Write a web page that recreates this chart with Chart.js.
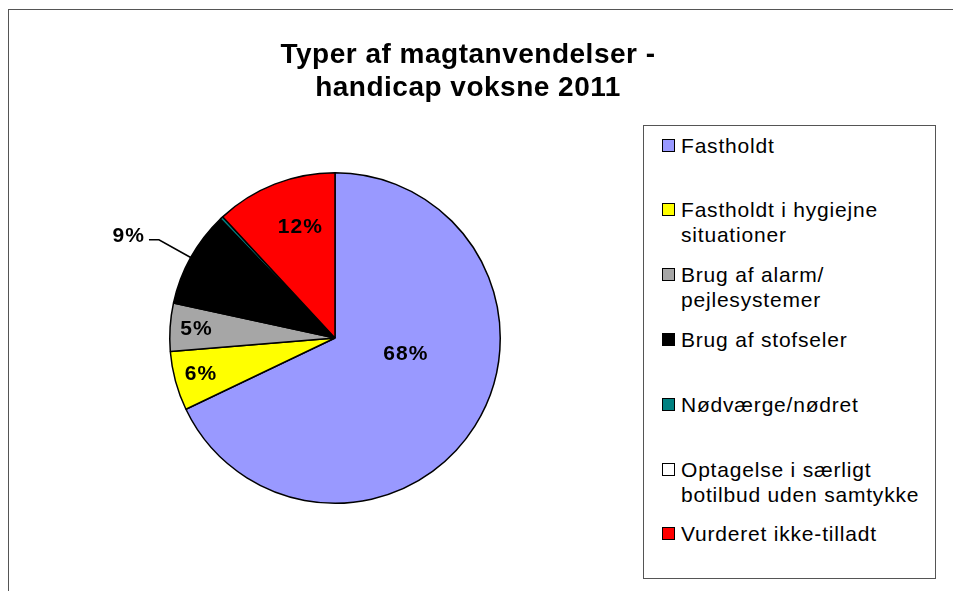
<!DOCTYPE html>
<html>
<head>
<meta charset="utf-8">
<title>Typer af magtanvendelser - handicap voksne 2011</title>
<script src="https://cdn.jsdelivr.net/npm/chart.js@4"></script>
<style>
  html, body { margin: 0; padding: 0; background: #fff; }
  body { width: 953px; height: 591px; position: relative; overflow: hidden;
         font-family: "Liberation Sans", Arial, sans-serif; }
  #frame { position: absolute; left: 8px; top: 9px; width: 980px; height: 620px;
           border-top: 1px solid #555; border-left: 1px solid #555; }
  #wrap { position: absolute; left: 10px; top: 10px; width: 916px; height: 581px; }
  #legend { position: absolute; left: 643px; top: 125px; width: 291px; height: 452px;
            border: 1px solid #555; background: #fff; }
  .item { position: absolute; left: 18px; width: 272px; font-size: 21px;
          letter-spacing: 0.8px; line-height: 25px; color: #000; }
  .sw { position: absolute; left: 0; top: 6px; width: 11px; height: 11px; border: 1px solid #000; }
  .txt { padding-left: 19px; width: 252px; }
</style>
</head>
<body>
<div id="frame"></div>
<div id="wrap"><canvas id="pieChart"></canvas></div>
<div id="legend"></div>

<script>
// data (shares in percent, clockwise from 12 o'clock)
const categories = [
    'Fastholdt',
    'Fastholdt i hygiejne situationer',
    'Brug af alarm/ pejlesystemer',
    'Brug af stofseler',
    'Nødværge/nødret',
    'Optagelse i særligt botilbud uden samtykke',
    'Vurderet ikke-tilladt'
];
const shares = [67.9, 5.8, 4.7, 9.4, 0.3, 0, 11.9];
const sliceColors = ['#9999FF', '#FFFF00', '#A6A6A6', '#000000', '#008080', '#FFFFFF', '#FF0000'];
const titleLines = ['Typer af magtanvendelser -', 'handicap voksne 2011'];

// where each percent label sits: fraction of radius, 'out' = leader line, null = none
const labelRadius = [0.44, 0.84, 0.84, 'out', null, null, 0.70];
const labelTurn = [-19, 0, 0, 0, 0, 0, 4];   // degrees nudged from slice middle

// empty box on the right so the pie sits left while the title stays centred
const spacer = {
    id: 'spacer',
    beforeInit(chart, args, opts) {
        const box = {
            position: 'right', weight: 0, fullSize: false, options: {},
            left: 0, top: 0, right: 0, bottom: 0, width: 0, height: 0,
            isHorizontal() { return false; },
            update(maxWidth, maxHeight) { this.width = opts.width; this.height = maxHeight; },
            draw() {}
        };
        Chart.layouts.addBox(chart, box);
    }
};

// wider canvas letter spacing, like the original
const spacing = {
    id: 'spacing',
    beforeDraw(chart) { chart.ctx.letterSpacing = '0.5px'; },
    afterDraw(chart) { chart.ctx.letterSpacing = '0px'; }
};

// percent labels on / beside the slices
const sliceLabels = {
    id: 'sliceLabels',
    afterDatasetsDraw(chart) {
        const ctx = chart.ctx;
        const data = chart.data.datasets[0].data;
        const total = data.reduce((a, b) => a + b, 0);
        const arcs = chart.getDatasetMeta(0).data;
        ctx.save();
        ctx.letterSpacing = '1px';
        ctx.font = 'bold 21px "Liberation Sans", Arial, sans-serif';
        ctx.fillStyle = '#000';
        ctx.textBaseline = 'middle';
        arcs.forEach((arc, i) => {
            const r = labelRadius[i];
            if (r === null) return;
            const txt = Math.round(data[i] / total * 100) + '%';
            const R = arc.outerRadius;
            const mid = (arc.startAngle + arc.endAngle) / 2 + labelTurn[i] * Math.PI / 180;
            if (r === 'out') {
                const ex = arc.x + Math.cos(mid) * R, ey = arc.y + Math.sin(mid) * R;
                const kx = arc.x + Math.cos(mid) * R * 1.22, ky = arc.y + Math.sin(mid) * R * 1.22;
                ctx.strokeStyle = '#000';
                ctx.lineWidth = 1.5;
                ctx.beginPath();
                ctx.moveTo(ex, ey);
                ctx.lineTo(kx, ky);
                ctx.lineTo(kx - 10, ky);
                ctx.stroke();
                ctx.textAlign = 'right';
                ctx.fillText(txt, kx - 14, ky - 4);
            } else {
                ctx.textAlign = 'center';
                ctx.fillText(txt, arc.x + Math.cos(mid) * R * r, arc.y + Math.sin(mid) * R * r);
            }
        });
        ctx.restore();
    }
};

const ctx = document.getElementById('pieChart').getContext('2d');
new Chart(ctx, {
    type: 'pie',
    data: {
        labels: categories,
        datasets: [{
            data: shares,
            backgroundColor: sliceColors,
            borderColor: '#000',
            borderWidth: 1.5
        }]
    },
    options: {
        responsive: true,
        maintainAspectRatio: false,
        animation: false,
        layout: { padding: { left: 0, right: 0, top: 0, bottom: 87 } },
        plugins: {
            legend: { display: false },
            tooltip: { enabled: false },
            spacer: { width: 266 },
            title: {
                display: true,
                text: titleLines,
                color: '#000',
                font: { family: '"Liberation Sans", Arial, sans-serif', size: 28, weight: 'bold', lineHeight: 33 / 28 },
                padding: { top: 28.5, bottom: 67.5 }
            }
        }
    },
    plugins: [spacer, spacing, sliceLabels]
});

// legend box, built from the same arrays
const legendBox = document.getElementById('legend');
categories.forEach((name, i) => {
    const item = document.createElement('div');
    item.className = 'item';
    item.style.top = (6.5 + i * 64.8) + 'px';
    const sw = document.createElement('div');
    sw.className = 'sw';
    sw.style.background = sliceColors[i];
    const txt = document.createElement('div');
    txt.className = 'txt';
    txt.textContent = name;
    item.appendChild(sw);
    item.appendChild(txt);
    legendBox.appendChild(item);
});
</script>
</body>
</html>
